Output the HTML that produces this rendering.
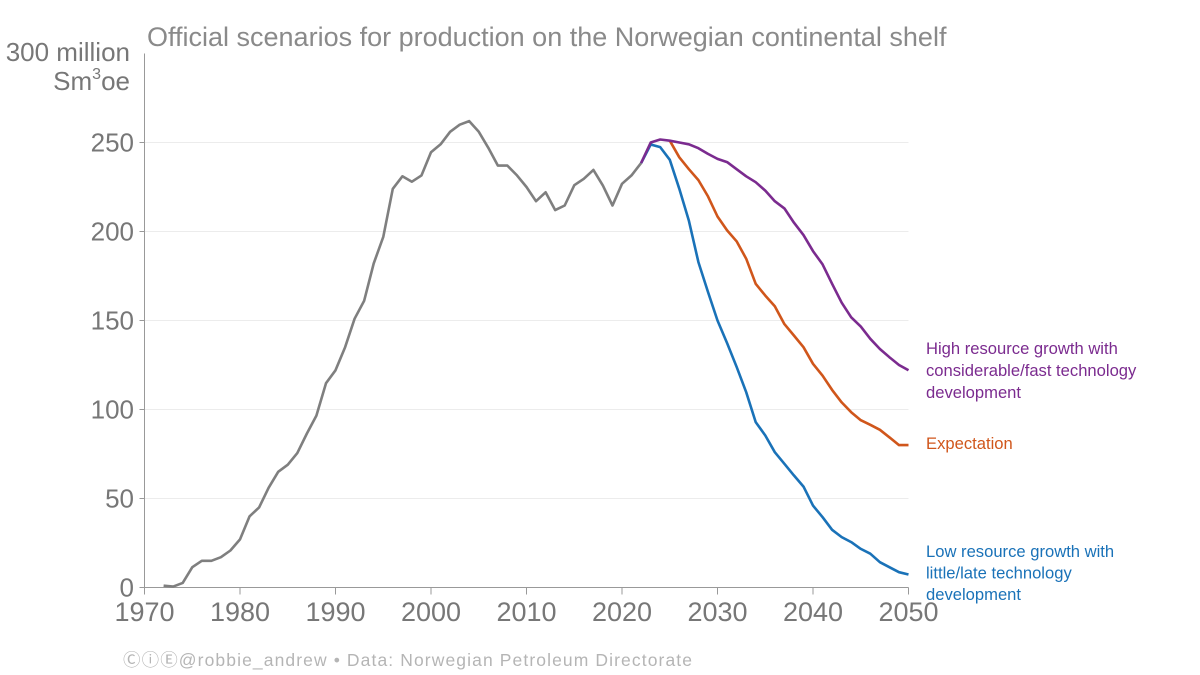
<!DOCTYPE html>
<html><head><meta charset="utf-8"><style>
body{margin:0;background:#fff;}
svg{display:block;font-family:"Liberation Sans",Arial,sans-serif;}
</style></head><body>
<svg id="chart" width="1200" height="675">
<text x="147" y="46" font-size="27" fill="#8a8a8a">Official scenarios for production on the Norwegian continental shelf</text>
<text x="130" y="61" font-size="26" fill="#777" text-anchor="end">300 million</text>
<text x="130" y="90" font-size="26" fill="#777" text-anchor="end">Sm<tspan font-size="16" dy="-11">3</tspan><tspan dy="11">oe</tspan></text>
<g id="grid"></g><g id="axes"></g><g id="lines"></g>
<g font-size="16.6">
<text x="926" y="354" fill="#7b2b8f"><tspan x="926">High resource growth with</tspan><tspan x="926" dy="22">considerable/fast technology</tspan><tspan x="926" dy="22">development</tspan></text>
<text x="926" y="449" fill="#d0561b">Expectation</text>
<text x="926" y="557" fill="#1a72b8"><tspan x="926">Low resource growth with</tspan><tspan x="926" dy="21.5">little/late technology</tspan><tspan x="926" dy="21.5">development</tspan></text>
</g>
<text x="123" y="666" font-size="17.5" fill="#b5b5b5" textLength="569" lengthAdjust="spacing">ⒸⓘⒺ@robbie_andrew  •  Data: Norwegian Petroleum Directorate</text>
</svg>
<script>
const histYears=[1972,1973,1974,1975,1976,1977,1978,1979,1980,1981,1982,1983,1984,1985,1986,1987,1988,1989,1990,1991,1992,1993,1994,1995,1996,1997,1998,1999,2000,2001,2002,2003,2004,2005,2006,2007,2008,2009,2010,2011,2012,2013,2014,2015,2016,2017,2018,2019,2020,2021,2022];
const histValues=[1,0.5,2.6,11.4,15,15,17,20.8,27,40,45,56,65,69,75.5,86.5,96.6,114.8,122,135,151,161,182,197,224,231,228,231.5,244.5,249,256,260,262,256,247,237,237,231.5,225,217,222,212,214.6,226,229.6,234.6,225.8,214.6,226.8,231.5,238.4];
const highYears=[2022,2023,2024,2025,2026,2027,2028,2029,2030,2031,2032,2033,2034,2035,2036,2037,2038,2039,2040,2041,2042,2043,2044,2045,2046,2047,2048,2049,2050];
const highValues=[238.4,250,251.7,251,250,249,246.8,243.6,240.8,239,235,231,227.7,223,217,213,205,198,189,181.5,170.6,160,151.8,146.6,139.7,134,129.4,125,122];
const expYears=[2025,2026,2027,2028,2029,2030,2031,2032,2033,2034,2035,2036,2037,2038,2039,2040,2041,2042,2043,2044,2045,2046,2047,2048,2049,2050];
const expValues=[251,241.7,235,228.9,219.7,208.4,200.6,194.5,184.7,170.6,164,158,148,141.6,135,125.7,119,111,104,98.5,94,91.4,88.6,84.4,80,80];
const lowYears=[2022,2023,2024,2025,2026,2027,2028,2029,2030,2031,2032,2033,2034,2035,2036,2037,2038,2039,2040,2041,2042,2043,2044,2045,2046,2047,2048,2049,2050];
const lowValues=[238.4,248.9,247.4,240.3,224,206,182.8,166,150,137.3,124,109.7,92.9,85.4,76,69.5,63,56.7,46,39.5,32.4,28.3,25.5,21.7,19,14.2,11.4,8.6,7.3];
const yTicks=[0,50,100,150,200,250];
const xTicks=[1970,1980,1990,2000,2010,2020,2030,2040,2050];

const NS='http://www.w3.org/2000/svg';
const x=y=>144.5+(y-1970)*9.55;
const yv=v=>587.5-v*1.78;
function mk(tag,attrs,parent){const e=document.createElementNS(NS,tag);for(const k in attrs)e.setAttribute(k,attrs[k]);parent.appendChild(e);return e;}
const grid=document.getElementById('grid'),axes=document.getElementById('axes'),lines=document.getElementById('lines');
yTicks.forEach(t=>{
  if(t>0){const g=mk('line',{x1:x(1970),x2:x(2050),y1:yv(t),y2:yv(t),stroke:'#ececec','stroke-width':1},grid);
  
  }
  const tk=mk('line',{x1:x(1970)-5,x2:x(1970),y1:yv(t),y2:yv(t),stroke:'#999'},axes);
  
  
  const l=mk('text',{x:134,y:yv(t)+9,'font-size':26,fill:'#777','text-anchor':'end'},axes);l.textContent=t;
  
  
});
const ya=mk('line',{x1:x(1970),x2:x(1970),y1:yv(300),y2:yv(0),stroke:'#999'},axes);


const xa=mk('line',{x1:x(1970),x2:x(2050),y1:yv(0),y2:yv(0),stroke:'#999'},axes);


xTicks.forEach(t=>{
  const tk=mk('line',{x1:x(t),x2:x(t),y1:yv(0),y2:yv(0)+7,stroke:'#999'},axes);
  
  
  const l=mk('text',{x:x(t),y:621,'font-size':27,fill:'#777','text-anchor':'middle'},axes);l.textContent=t;
  
  
});
function series(ys,vs,color,name){
  const d=ys.map((yy,i)=>(i?'L':'M')+x(yy).toFixed(1)+','+yv(vs[i]).toFixed(1)).join(' ');
  const p=mk('path',{d:d,fill:'none',stroke:color,'stroke-width':2.6,'stroke-linejoin':'round'},lines);
  
  
}
series(histYears,histValues,'#7f7f7f','historical-line');
series(lowYears,lowValues,'#1a72b8','low-scenario-line');
series(expYears,expValues,'#d0561b','expectation-line');
series(highYears,highValues,'#7b2b8f','high-scenario-line');
</script>
</body></html>
